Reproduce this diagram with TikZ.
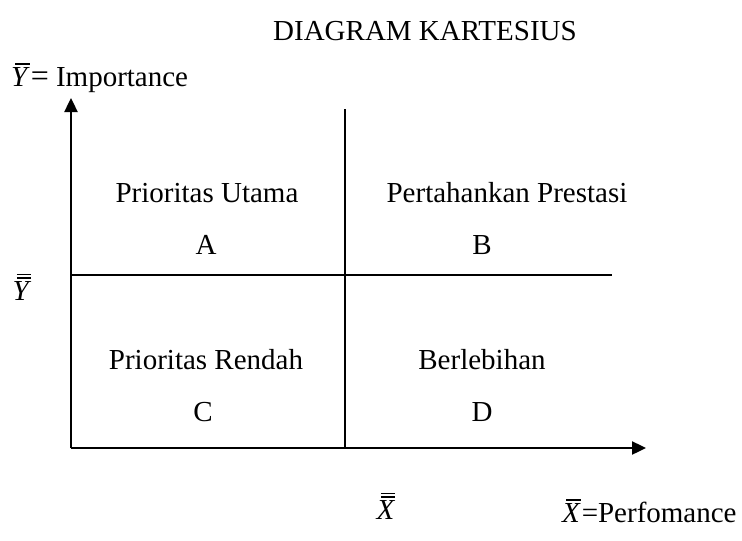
\documentclass[tikz,border=0pt]{standalone}
\usepackage{fontspec}
\setmainfont{Liberation Serif}
\usetikzlibrary{arrows.meta}
\newcommand{\onebar}{\hbox{\kern0.14em\vrule height1.4pt depth0pt width0.5em}}
\newcommand{\mybar}[1]{\leavevmode\vbox{\offinterlineskip\onebar\kern2.5pt\hbox{\itshape #1}}}
\newcommand{\mydbar}[1]{\leavevmode\vbox{\offinterlineskip\onebar\kern2.2pt\onebar\kern2.5pt\hbox{\itshape #1}}}
\begin{document}
\begin{tikzpicture}[x=1pt,y=-1pt,
  lbl/.style={font=\fontsize{29pt}{34pt}\selectfont, inner sep=0pt},
  ln/.style={line width=2.4pt},
  ax/.style={line width=2.4pt,-{Triangle[length=14pt,width=13pt]}}]
\useasboundingbox (0,0) rectangle (742,541);
\fill[white] (0,0) rectangle (742,541);
\coordinate (O) at (71,448);
\coordinate (ytip) at (71,98);
\coordinate (xtip) at (646,448);
\coordinate (vtop) at (345,109);
\coordinate (vbot) at (345,448);
\coordinate (hl) at (71,275);
\coordinate (hr) at (612,275);
\draw[ax] (O) -- (ytip);
\draw[ax] (O) -- (xtip);
\draw[ln] (vtop) -- (vbot);
\draw[ln] (hl) -- (hr);
\node[lbl] (title) at (425,31) {DIAGRAM KARTESIUS};
\node[lbl,anchor=west] (ylab) at (11,78) {\mybar{Y}\kern1pt{\fontsize{32pt}{34pt}\selectfont=}\ Importance};
\node[lbl] (ybb) at (22,287) {\mydbar{Y}};
\node[lbl] (xbb) at (386,506) {\mydbar{X}};
\node[lbl,anchor=west] (xlab) at (562,511) {\mybar{X}\kern1pt=Perfomance};
\node[lbl] (qa) at (207,193) {Prioritas Utama};
\node[lbl] (a) at (206,245) {A};
\node[lbl] (qb) at (507,193) {Pertahankan Prestasi};
\node[lbl] (b) at (482,245) {B};
\node[lbl] (qc) at (206,360) {Prioritas Rendah};
\node[lbl] (c) at (203,412) {C};
\node[lbl] (qd) at (482,360) {Berlebihan};
\node[lbl] (d) at (482,412) {D};
\end{tikzpicture}
\end{document}
